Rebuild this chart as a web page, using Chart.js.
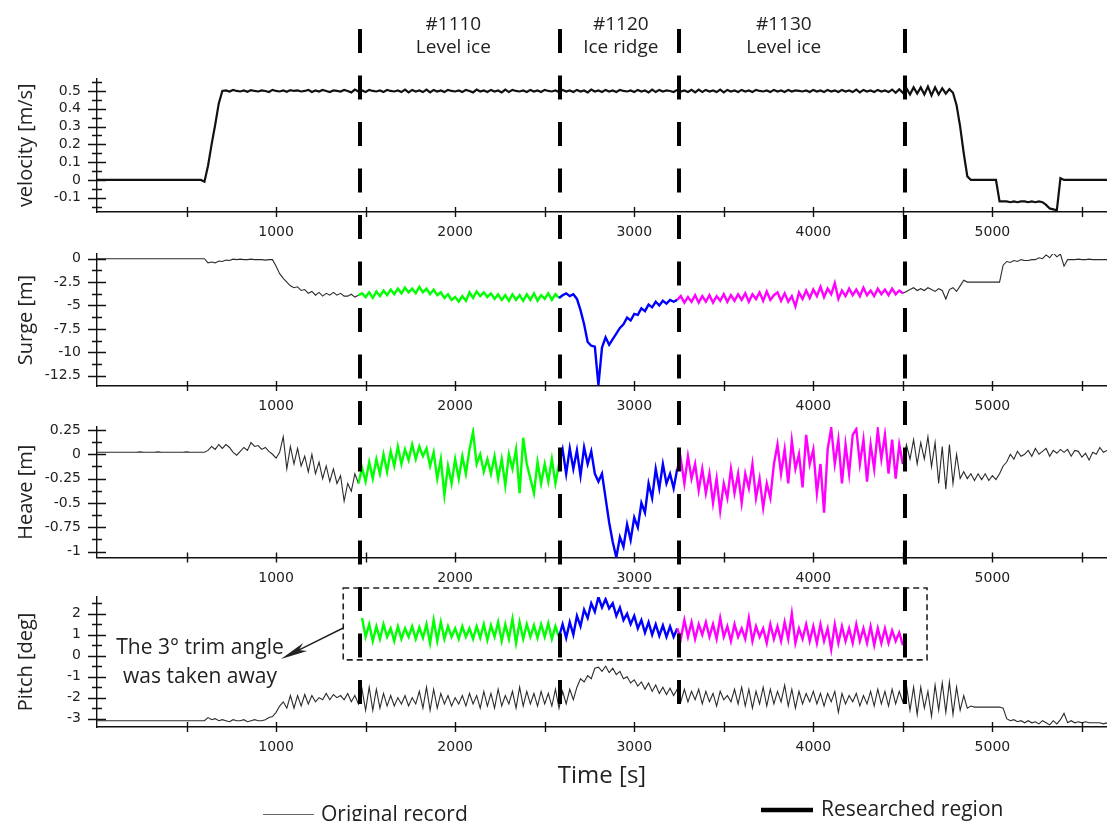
<!DOCTYPE html>
<html>
<head>
<meta charset="utf-8">
<title>Ship motions in ice - tests #1110 / #1120 / #1130</title>
<script src="https://cdn.jsdelivr.net/npm/chart.js@4.4.1/dist/chart.umd.min.js"></script>
<style>
  html, body { margin: 0; background: #fff; }
  #wrap { position: relative; width: 1107px; height: 821px; overflow: hidden; }
  #wrap canvas { position: absolute; left: 0; top: 0; }
</style>
</head>
<body>
<div id="wrap">
  <canvas id="velocityChart" width="1107" height="821"></canvas>
  <canvas id="surgeChart" width="1107" height="821"></canvas>
  <canvas id="heaveChart" width="1107" height="821"></canvas>
  <canvas id="pitchChart" width="1107" height="821"></canvas>
</div>
<script>
// ===== DATA =====
// every record is sampled once per SAMPLE_STEP seconds, starting at t = 0 unless said otherwise

const SAMPLE_STEP = 20;
const TIME_MAX = 5640;

const timeTicks = [1000, 2000, 3000, 4000, 5000];
const regionBounds = [1470, 2588, 3250, 4510];
const regionColors = ["#00ff00", "#0000ff", "#ff00ff"];
const regionNames = [["#1110", "Level ice"], ["#1120", "Ice ridge"], ["#1130", "Level ice"]];
const regionLabelTimes = [1990, 2925, 3835];

const velocityTicks = [-0.1, 0, 0.1, 0.2, 0.3, 0.4, 0.5];
const surgeTicks = [-12.5, -10, -7.5, -5, -2.5, 0];
const heaveTicks = [-1, -0.75, -0.5, -0.25, 0, 0.25];
const pitchTicks = [-3, -2, -1, 0, 1, 2];

// velocity [m/s]
const velocity = [
  0, 0, 0, 0, 0, 0, 0, 0, 0, 0,
  0, 0, 0, 0, 0, 0, 0, 0, 0, 0,
  0, 0, 0, 0, 0, 0, 0, 0, 0, 0,
  -0.01, 0.08, 0.2, 0.31, 0.43, 0.5, 0.503, 0.497, 0.506, 0.5,
  0.497, 0.503, 0.495, 0.505, 0.5, 0.497, 0.503, 0.5, 0.494, 0.506,
  0.5, 0.497, 0.503, 0.495, 0.505, 0.5, 0.503, 0.497, 0.5, 0.506,
  0.494, 0.503, 0.497, 0.506, 0.5, 0.494, 0.503, 0.5, 0.497, 0.506,
  0.5, 0.492, 0.508, 0.497, 0.503, 0.494, 0.506, 0.5, 0.497, 0.503,
  0.494, 0.506, 0.5, 0.497, 0.503, 0.494, 0.508, 0.492, 0.506, 0.497,
  0.503, 0.494, 0.508, 0.492, 0.506, 0.497, 0.503, 0.494, 0.506, 0.5,
  0.497, 0.503, 0.494, 0.506, 0.5, 0.492, 0.508, 0.497, 0.503, 0.494,
  0.506, 0.497, 0.503, 0.492, 0.508, 0.494, 0.506, 0.5, 0.497, 0.503,
  0.494, 0.506, 0.497, 0.503, 0.494, 0.506, 0.5, 0.497, 0.503, 0.494,
  0.506, 0.497, 0.503, 0.494, 0.506, 0.497, 0.503, 0.492, 0.508, 0.497,
  0.503, 0.494, 0.506, 0.497, 0.503, 0.494, 0.506, 0.5, 0.497, 0.503,
  0.494, 0.506, 0.497, 0.503, 0.492, 0.508, 0.494, 0.506, 0.497, 0.503,
  0.5, 0.494, 0.506, 0.497, 0.503, 0.494, 0.506, 0.492, 0.508, 0.494,
  0.506, 0.497, 0.503, 0.494, 0.508, 0.492, 0.506, 0.497, 0.503, 0.494,
  0.506, 0.497, 0.503, 0.494, 0.506, 0.5, 0.497, 0.503, 0.494, 0.506,
  0.497, 0.503, 0.494, 0.506, 0.497, 0.503, 0.5, 0.497, 0.503, 0.494,
  0.506, 0.497, 0.503, 0.494, 0.506, 0.497, 0.503, 0.494, 0.506, 0.497,
  0.503, 0.494, 0.508, 0.492, 0.506, 0.497, 0.503, 0.494, 0.506, 0.497,
  0.503, 0.494, 0.508, 0.49, 0.51, 0.49, 0.515, 0.48, 0.52, 0.485,
  0.52, 0.48, 0.525, 0.475, 0.52, 0.48, 0.515, 0.485, 0.51, 0.49,
  0.42, 0.3, 0.15, 0.02, 0, 0, 0, 0, 0, 0,
  0, 0, -0.12, -0.12, -0.12, -0.125, -0.12, -0.125, -0.12, -0.12,
  -0.125, -0.12, -0.125, -0.12, -0.125, -0.14, -0.16, -0.165, -0.17, 0.01,
  0, 0, 0, 0, 0, 0, 0, 0, 0, 0,
  0, 0, 0,
];

// surge [m]
const surge = [
  0, 0, 0, 0, 0, 0, 0, 0, 0, 0,
  0, 0, 0, 0, 0, 0, 0, 0, 0, 0,
  0, 0, 0, 0, 0, 0, 0, 0, 0, 0,
  0, -0.45, -0.35, -0.45, -0.25, -0.3, -0.15, -0.2, -0.05, -0.1,
  -0.05, -0.1, -0.1, -0.05, -0.1, -0.1, -0.1, -0.15, -0.1, -0.1,
  -0.8, -1.6, -2.1, -2.5, -2.9, -3.1, -3.0, -3.4, -3.3, -3.7,
  -3.5, -3.9, -3.6, -4.0, -3.7, -3.9, -3.6, -3.9, -3.7, -4.0,
  -4.0, -3.8, -4.1, -3.9, -3.7, -4.1, -3.6, -4.2, -3.5, -4.0,
  -3.4, -3.9, -3.3, -3.8, -3.2, -3.7, -3.1, -3.6, -3.2, -3.7,
  -3.0, -3.6, -3.2, -3.8, -3.3, -3.9, -3.6, -4.2, -3.8, -4.4,
  -4.1, -4.6, -4.0, -4.5, -3.6, -4.2, -3.5, -4.0, -3.6, -4.1,
  -3.7, -4.3, -3.8, -4.4, -3.9, -4.5, -3.8, -4.4, -3.9, -4.5,
  -3.8, -4.4, -3.7, -4.5, -3.9, -4.3, -3.7, -4.4, -3.8, -4.2,
  -3.9, -3.7, -4.0, -3.8, -4.3, -5.5, -7.0, -8.9, -9.3, -9.4,
  -13.5, -9.5, -8.4, -9.2, -8.6, -8.0, -7.4, -7.0, -6.3, -6.6,
  -5.9, -6.0, -5.3, -5.6, -4.9, -5.2, -4.6, -5.0, -4.5, -4.8,
  -4.4, -4.6, -4.4, -4.0, -4.7, -4.1, -4.6, -3.9, -4.7, -4.0,
  -4.6, -3.9, -4.7, -4.0, -4.5, -3.8, -4.6, -3.9, -4.5, -3.8,
  -4.4, -3.7, -4.6, -3.8, -4.3, -3.6, -4.5, -3.5, -4.4, -3.9,
  -3.6, -4.5, -3.7, -4.6, -4.0, -5.1, -3.6, -4.3, -3.4, -4.2,
  -3.3, -4.0, -3.0, -4.1, -3.2, -3.8, -2.6, -4.3, -3.4, -4.0,
  -3.2, -3.9, -3.3, -4.0, -3.1, -3.9, -3.4, -4.0, -3.2, -3.8,
  -3.3, -3.9, -3.2, -3.8, -3.4, -3.7, -3.5, -3.3, -3.1, -3.4,
  -3.2, -3.4, -3.1, -3.3, -3.5, -3.2, -3.4, -4.3, -3.3, -3.1,
  -3.5, -2.9, -2.3, -2.5, -2.5, -2.5, -2.5, -2.5, -2.5, -2.5,
  -2.5, -2.5, -2.5, -0.7, -0.3, -0.4, -0.2, -0.3, -0.1, -0.2,
  -0.2, -0.1, -0.1, 0.1, 0.0, 0.4, 0.1, 0.6, 0.2, 0.5,
  -0.8, -0.1, -0.1, -0.1, -0.05, -0.1, -0.1, -0.05, -0.1, -0.1,
  -0.1, -0.1, -0.1,
];

// heave [m]
const heave = [
  0.02, 0.02, 0.02, 0.02, 0.02, 0.02, 0.02, 0.02, 0.02, 0.02,
  0.02, 0.02, 0.025, 0.02, 0.02, 0.02, 0.02, 0.025, 0.02, 0.02,
  0.02, 0.02, 0.02, 0.02, 0.02, 0.025, 0.02, 0.02, 0.02, 0.02,
  0.02, 0.04, 0.08, 0.05, 0.1, 0.06, 0.1, 0.07, 0.02, -0.01,
  0.03, 0.07, 0.04, 0.12, 0.08, 0.09, 0.05, 0.07, 0.03, 0.0,
  -0.04, 0.02, 0.18, -0.15, 0.08, -0.1, 0.06, -0.12, -0.02, -0.18,
  0.0, -0.2, -0.08, -0.25, -0.12, -0.28, -0.15, -0.3, -0.22, -0.48,
  -0.3, -0.38, -0.2, -0.3, -0.14, -0.28, -0.08, -0.25, -0.05, -0.2,
  0.0, -0.18, 0.03, -0.12, 0.08, -0.1, 0.05, -0.06, 0.1, -0.05,
  0.08, -0.02, 0.06, -0.12, 0.02, -0.25, -0.05, -0.42, -0.12, -0.3,
  -0.05, -0.25, -0.02, -0.2, 0.05, 0.23, -0.1, 0.0, -0.18, -0.05,
  -0.2, -0.02, -0.25, -0.05, -0.32, 0.0, -0.15, 0.05, -0.4, 0.17,
  -0.1, -0.25, -0.4, -0.08, -0.3, -0.1, -0.28, -0.05, -0.3, -0.1,
  0.05, -0.2, 0.06, -0.15, 0.04, -0.22, 0.07, -0.1, 0.03, -0.2,
  -0.28, -0.2, -0.45, -0.7, -0.9, -1.06, -0.85, -0.95, -0.72, -0.88,
  -0.65, -0.75, -0.5, -0.6, -0.3, -0.45, -0.15, -0.35, -0.1, -0.3,
  -0.2, -0.35, -0.15, -0.05, -0.3, -0.02, -0.25, -0.1, -0.37, -0.15,
  -0.4, -0.2, -0.5, -0.25, -0.58, -0.3, -0.45, -0.15, -0.4, -0.2,
  -0.5, -0.2, -0.35, -0.1, -0.45, -0.25, -0.55, -0.3, -0.45, -0.1,
  0.1, -0.2, 0.05, -0.3, 0.14, -0.15, 0.0, -0.34, 0.2, -0.1,
  0.05, -0.4, -0.1, -0.6, 0.05, 0.27, -0.1, 0.15, -0.3, 0.1,
  -0.2, 0.2, 0.26, -0.1, 0.15, -0.28, 0.1, -0.15, 0.25, -0.05,
  0.2, -0.2, 0.15, -0.25, 0.1, -0.1, 0.1, -0.05, 0.15, -0.1,
  0.12, -0.05, 0.18, -0.13, 0.12, -0.3, 0.08, -0.36, 0.1, -0.3,
  0.0, -0.25, -0.18, -0.25, -0.2, -0.27, -0.2, -0.26, -0.2, -0.27,
  -0.22, -0.26, -0.2, -0.12, -0.08, 0.0, -0.05, 0.03, -0.02, 0.0,
  0.04, -0.02, 0.06, 0.0, 0.03, 0.06, -0.02, 0.04, 0.01, 0.05,
  0.02, 0.05, -0.02, 0.04, 0.03, -0.03, 0.01, -0.06, 0.02, 0.0,
  0.07, 0.02, 0.04,
];

// pitch [deg], original record
const pitchOriginal = [
  -3.1, -3.1, -3.1, -3.1, -3.1, -3.1, -3.1, -3.1, -3.1, -3.1,
  -3.1, -3.1, -3.1, -3.1, -3.1, -3.1, -3.1, -3.1, -3.1, -3.1,
  -3.1, -3.1, -3.1, -3.1, -3.1, -3.1, -3.1, -3.1, -3.1, -3.1,
  -3.1, -2.95, -3.05, -3.0, -3.1, -3.05, -3.1, -3.15, -3.05, -3.1,
  -3.1, -3.05, -3.15, -3.1, -3.05, -3.1, -3.1, -3.05, -2.95, -2.9,
  -2.7, -2.4, -2.2, -2.5, -1.9, -2.5, -1.9, -2.4, -1.85, -2.3,
  -1.9, -2.2, -2.0, -2.1, -1.8, -2.1, -1.85, -2.0, -1.9, -2.1,
  -1.8, -2.2, -1.9, -2.3, -1.6, -2.6, -1.5, -2.6, -1.6, -2.5,
  -1.8, -2.4, -1.9, -2.4, -2.0, -2.3, -1.9, -2.4, -2.0, -2.3,
  -1.7, -2.5, -1.5, -2.6, -1.6, -2.5, -1.8, -2.3, -1.9, -2.4,
  -2.0, -2.3, -1.9, -2.4, -1.8, -2.3, -1.9, -2.5, -1.7, -2.4,
  -1.8, -2.5, -1.6, -2.4, -1.9, -2.3, -1.7, -2.5, -1.5, -2.4,
  -1.7, -2.3, -1.8, -2.4, -1.7, -2.3, -1.8, -2.4, -1.6, -2.5,
  -1.7, -2.3, -1.6, -2.1, -1.5, -1.1, -1.25, -0.95, -1.1, -0.6,
  -0.55, -0.75, -0.5, -0.8, -0.6, -0.9, -0.75, -1.1, -1.0, -1.3,
  -1.15, -1.45, -1.25, -1.6, -1.3, -1.7, -1.4, -1.8, -1.5, -1.85,
  -1.55, -1.9, -1.6, -2.2, -1.6, -2.2, -1.7, -2.1, -1.6, -2.3,
  -1.7, -2.2, -1.8, -2.4, -1.7, -2.1, -1.9, -2.2, -1.6, -2.3,
  -1.5, -2.4, -1.6, -2.5, -1.7, -2.3, -1.5, -2.4, -1.6, -2.3,
  -1.7, -2.2, -1.4, -2.4, -1.6, -2.5, -1.7, -2.3, -1.8, -2.2,
  -1.7, -2.3, -1.8, -2.4, -1.8, -2.2, -1.7, -2.7, -1.8, -2.3,
  -1.9, -2.2, -1.8, -2.4, -1.9, -2.3, -1.7, -2.4, -1.6, -2.3,
  -1.7, -2.4, -1.6, -2.3, -1.7, -2.2, -1.4, -2.6, -1.5, -2.8,
  -1.5, -2.5, -1.7, -2.9, -1.4, -2.6, -1.3, -2.7, -1.25, -2.8,
  -1.5, -2.6, -1.9, -2.5, -2.4, -2.45, -2.45, -2.45, -2.45, -2.45,
  -2.45, -2.45, -2.45, -2.5, -3.0, -3.1, -3.05, -3.15, -3.1, -3.2,
  -3.1, -3.2, -3.15, -3.25, -3.1, -3.2, -3.3, -3.1, -3.25, -3.05,
  -2.75, -3.2, -3.1, -3.2, -3.15, -3.2, -3.15, -3.2, -3.2, -3.2,
  -3.2, -3.25, -3.2,
];

// pitch [deg] with the 3 deg trim angle taken away, researched part only
const pitchCorrectedStart = 1480;
const pitchCorrected = [
  1.8, 0.9, 1.5, 0.7, 1.4, 0.8,
  1.5, 0.9, 1.3, 0.7, 1.4, 0.8, 1.3, 0.9, 1.4, 0.8,
  1.35, 0.85, 1.5, 0.6, 1.7, 0.7, 1.6, 0.8, 1.4, 0.9,
  1.3, 0.8, 1.4, 0.9, 1.3, 0.8, 1.4, 0.85, 1.5, 0.75,
  1.45, 0.9, 1.6, 0.7, 1.5, 0.8, 1.75, 0.6, 1.6, 0.8,
  1.5, 0.9, 1.45, 0.85, 1.5, 0.9, 1.55, 0.8, 1.4, 0.9,
  1.5, 0.85, 1.6, 1.0, 1.9, 1.4, 2.2, 1.8, 2.5, 2.1,
  2.8, 2.3, 2.7, 2.25, 2.5, 1.9, 2.3, 1.7, 2.0, 1.5,
  1.9, 1.3, 1.7, 1.1, 1.6, 1.0, 1.5, 0.95, 1.45, 0.9,
  1.4, 0.9, 1.3, 0.8, 1.7, 0.9, 1.6, 0.8, 1.5, 1.0,
  1.6, 0.9, 1.5, 0.8, 1.8, 0.9, 1.4, 0.7, 1.5, 0.9,
  1.3, 0.8, 1.8, 0.7, 1.4, 0.9, 1.3, 0.6, 1.5, 0.8,
  1.4, 0.7, 1.6, 0.8, 2.0, 0.6, 1.3, 0.8, 1.5, 0.7,
  1.4, 0.6, 1.5, 0.7, 1.3, 0.3, 1.5, 0.6, 1.4, 0.7,
  1.3, 0.6, 1.5, 0.7, 1.3, 0.6, 1.4, 0.5, 1.3, 0.6,
  1.3, 0.6, 1.2, 0.7, 1.1, 0.5,
];

// ===== STYLE / LAYOUT =====

const PAGE_H = 821;
const TEXT_COLOR = "#222";
const AXIS_COLOR = "#111";
const ORIGINAL_COLOR = "#2b2b2b";
const TICK_FONT = { family: "'DejaVu Sans'", size: 14 };
const TITLE_FONT = { family: "'Open Sans'", size: 20 };

function toPoints(values, start) {
  return values.map((v, i) => ({ x: start + i * SAMPLE_STEP, y: v }));
}

function regionOf(t) {
  for (let i = 0; i < regionColors.length; i++) {
    if (t >= regionBounds[i] && t < regionBounds[i + 1]) return i;
  }
  return -1;
}

function segMid(c) {
  return (c.p0.parsed.x + c.p1.parsed.x) / 2;
}

const regionSegment = {
  borderColor: (c) => {
    const r = regionOf(segMid(c));
    return r < 0 ? ORIGINAL_COLOR : regionColors[r];
  },
  borderWidth: (c) => (regionOf(segMid(c)) < 0 ? 1.1 : 2.4),
};

// ticks that cross the axis lines, like in the original figure
const crossTicks = {
  id: "crossTicks",
  afterDraw(chart, args, o) {
    const { ctx, scales: { x, y } } = chart;
    ctx.save();
    ctx.strokeStyle = AXIS_COLOR;
    ctx.lineWidth = 1.4;
    ctx.beginPath();
    const k0 = Math.ceil(y.min / o.minorStep - 1e-6);
    const k1 = Math.floor(y.max / o.minorStep + 1e-6);
    for (let k = k0; k <= k1; k++) {
      const v = k * o.minorStep;
      const major = o.major.some((m) => Math.abs(m - v) < 1e-6);
      const half = major ? 9 : 5;
      const py = Math.round(y.getPixelForValue(v)) + 0.5;
      ctx.moveTo(x.left - half, py);
      ctx.lineTo(x.left + half, py);
    }
    for (let t = 500; t < x.max; t += 500) {
      const px = Math.round(x.getPixelForValue(t)) + 0.5;
      ctx.moveTo(px, y.bottom - 5);
      ctx.lineTo(px, y.bottom + 5);
    }
    ctx.stroke();
    ctx.restore();
  },
};

function drawArrow(ctx, x0, y0, x1, y1) {
  const a = Math.atan2(y1 - y0, x1 - x0);
  const c = Math.cos(a), s = Math.sin(a);
  ctx.beginPath();
  ctx.moveTo(x0, y0);
  ctx.lineTo(x1 - 18 * c, y1 - 18 * s);
  ctx.stroke();
  ctx.beginPath();
  ctx.moveTo(x1, y1);
  ctx.lineTo(x1 - 27 * c + 4.5 * s, y1 - 27 * s - 4.5 * c);
  ctx.lineTo(x1 - 20 * c, y1 - 20 * s);
  ctx.lineTo(x1 - 27 * c - 4.5 * s, y1 - 27 * s + 4.5 * c);
  ctx.closePath();
  ctx.fill();
}

// region bounds, titles, trim box and legend (drawn on top of everything)
const overlay = {
  id: "overlay",
  afterDraw(chart) {
    const { ctx, scales: { x, y } } = chart;
    ctx.save();

    // researched regions
    ctx.strokeStyle = "#000";
    ctx.lineWidth = 4;
    ctx.setLineDash([24, 22.5]);
    regionBounds.forEach((t) => {
      const px = Math.round(x.getPixelForValue(t));
      ctx.beginPath();
      ctx.moveTo(px, 29);
      ctx.lineTo(px, 706);
      ctx.stroke();
    });
    ctx.setLineDash([]);

    ctx.fillStyle = TEXT_COLOR;
    ctx.textAlign = "center";
    ctx.textBaseline = "middle";
    ctx.font = "19px 'Open Sans'";
    regionNames.forEach((lines, i) => {
      const px = x.getPixelForValue(regionLabelTimes[i]);
      ctx.fillText(lines[0], px, 25);
      ctx.fillText(lines[1], px, 48);
    });

    // box around the corrected pitch
    const bx0 = x.getPixelForValue(1375);
    const bx1 = x.getPixelForValue(4635);
    const by0 = y.getPixelForValue(3.23);
    const by1 = y.getPixelForValue(-0.2);
    ctx.strokeStyle = "#222";
    ctx.lineWidth = 1.6;
    ctx.setLineDash([6, 4]);
    ctx.strokeRect(bx0, by0, bx1 - bx0, by1 - by0);
    ctx.setLineDash([]);

    ctx.fillStyle = "#222";
    ctx.lineWidth = 1.4;
    drawArrow(ctx, bx0, 628, 281, 659);

    ctx.fillStyle = TEXT_COLOR;
    ctx.font = "21px 'Open Sans'";
    ctx.fillText("The 3\u00b0 trim angle", 200, 648);
    ctx.fillText("was taken away", 200, 677);

    // legend
    ctx.textAlign = "left";
    ctx.strokeStyle = "#666";
    ctx.lineWidth = 1;
    ctx.beginPath();
    ctx.moveTo(263, 814.5);
    ctx.lineTo(314, 814.5);
    ctx.stroke();
    ctx.fillText("Original record", 321, 815);

    ctx.strokeStyle = "#000";
    ctx.lineWidth = 4.5;
    ctx.beginPath();
    ctx.moveTo(761, 810);
    ctx.lineTo(813, 810);
    ctx.stroke();
    ctx.fillText("Researched region", 821, 810);

    ctx.restore();
  },
};

// ===== PANELS =====

const panels = [
  {
    id: "velocityChart", title: "velocity [m/s]", ticks: velocityTicks, minorStep: 0.05,
    min: -0.18, max: 0.57, top: 78.5, bottom: 212,
    series: [{ values: velocity, start: 0, width: 2.2, color: "#111" }],
  },
  {
    id: "surgeChart", title: "Surge [m]", ticks: surgeTicks, minorStep: 1.25,
    min: -13.6, max: 0.5, top: 254, bottom: 386,
    series: [{ values: surge, start: 0, colored: true }],
  },
  {
    id: "heaveChart", title: "Heave [m]", ticks: heaveTicks, minorStep: 0.125,
    min: -1.06, max: 0.28, top: 427, bottom: 557.5,
    series: [{ values: heave, start: 0, colored: true }],
  },
  {
    id: "pitchChart", title: "Pitch [deg]", ticks: pitchTicks, minorStep: 0.5,
    min: -3.4, max: 2.8, top: 597, bottom: 727, timeTitle: "Time [s]", overlay: true,
    series: [
      { values: pitchOriginal, start: 0, width: 1.1 },
      { values: pitchCorrected, start: pitchCorrectedStart, colored: true },
    ],
  },
];

function makePanel(p) {
  const xAxisHeight = p.timeTitle ? 63.4 : 40;

  const datasets = p.series.map((s) => {
    const ds = {
      data: toPoints(s.values, s.start),
      borderColor: s.color || ORIGINAL_COLOR,
      borderWidth: s.width || 1.1,
      pointRadius: 0,
      tension: 0,
      fill: false,
    };
    if (s.colored) ds.segment = regionSegment;
    return ds;
  });

  return new Chart(document.getElementById(p.id), {
    type: "line",
    data: { datasets },
    plugins: p.overlay ? [crossTicks, overlay] : [crossTicks],
    options: {
      responsive: false,
      animation: false,
      events: [],
      layout: {
        autoPadding: false,
        padding: { top: p.top, left: 0, right: 0, bottom: PAGE_H - p.bottom - xAxisHeight },
      },
      plugins: {
        legend: { display: false },
        tooltip: { enabled: false },
        crossTicks: { major: p.ticks, minorStep: p.minorStep },
      },
      scales: {
        x: {
          type: "linear",
          min: 0,
          max: TIME_MAX,
          grid: { display: false, drawTicks: false },
          border: { display: true, color: AXIS_COLOR, width: 1.4 },
          ticks: {
            padding: 12,
            color: TEXT_COLOR,
            font: TICK_FONT,
            maxRotation: 0,
            autoSkip: false,
            callback: (v) => String(v),
          },
          afterBuildTicks: (s) => { s.ticks = timeTicks.map((v) => ({ value: v })); },
          afterFit: (s) => { s.height = xAxisHeight; s.paddingLeft = 0; s.paddingRight = 0; },
          title: p.timeTitle
            ? { display: true, text: p.timeTitle, color: TEXT_COLOR, font: { family: "'Open Sans'", size: 24 }, padding: { top: 0, bottom: 0 } }
            : { display: false },
        },
        y: {
          min: p.min,
          max: p.max,
          grid: { display: false, drawTicks: false },
          border: { display: true, color: AXIS_COLOR, width: 1.4 },
          ticks: {
            padding: 16,
            color: TEXT_COLOR,
            font: TICK_FONT,
            autoSkip: false,
            callback: (v) => String(v),
          },
          afterBuildTicks: (s) => { s.ticks = p.ticks.map((v) => ({ value: v })); },
          afterFit: (s) => { s.width = 97; s.paddingTop = 0; s.paddingBottom = 0; },
          title: { display: true, text: p.title, color: TEXT_COLOR, font: TITLE_FONT, padding: { top: 14, bottom: 0 } },
        },
      },
    },
  });
}

panels.forEach(makePanel);
</script>
</body>
</html>
